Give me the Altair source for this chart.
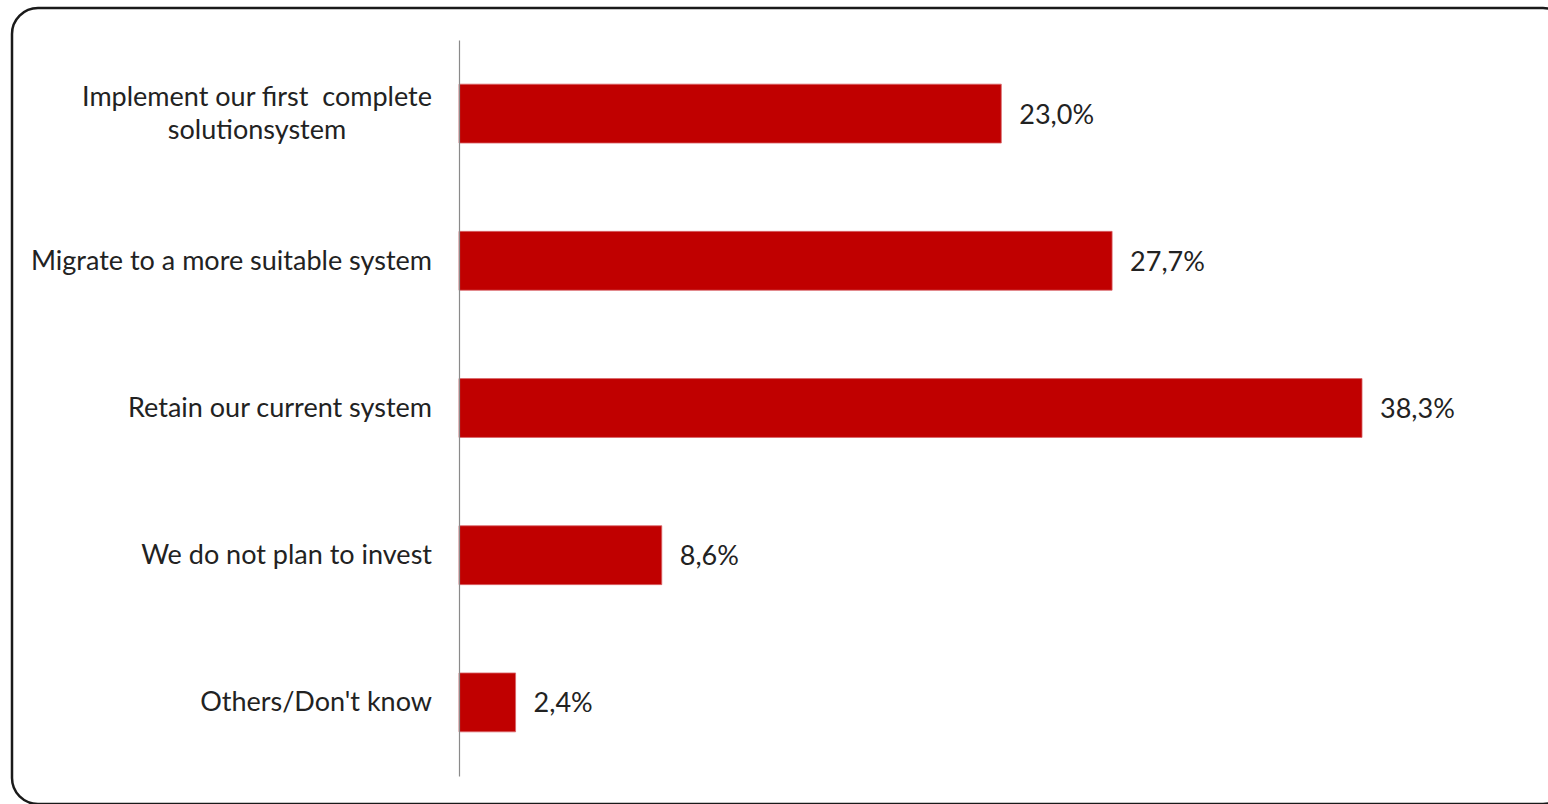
import altair as alt
import pandas as pd

categories = [
    "Implement our first  complete solutionsystem",
    "Migrate to a more suitable system",
    "Retain our current system",
    "We do not plan to invest",
    "Others/Don't know",
]
label_lines = [
    ["Implement our first\u00a0 complete", "solutionsystem"],
    ["Migrate to a more suitable system"],
    ["Retain our current system"],
    ["We do not plan to invest"],
    ["Others/Don't know"],
]
values = [23.0, 27.7, 38.3, 8.6, 2.4]

df = pd.DataFrame({
    "cat": categories,
    "v": values,
    "lines": label_lines,
    "nlines": [len(l) for l in label_lines],
})

FONT = "Lato"
FS = 27
W, H = 1061, 736
TXT = "#222222"

y_enc = alt.Y("cat:N", sort=categories,
              scale=alt.Scale(paddingInner=0.6, paddingOuter=0.3),
              axis=alt.Axis(title=None, labels=False, ticks=False, domain=True,
                            domainColor="#8a8a8a", domainWidth=1.2, zindex=1))
x_scale = alt.Scale(domain=[0, 45])

base = alt.Chart(df)

frame = alt.Chart(pd.DataFrame({"a": [0]})).mark_rect(
    fill="white", stroke="#1a1a1a", strokeWidth=2.5, cornerRadius=26
).encode(
    x=alt.value(-447), x2=alt.value(1110),
    y=alt.value(-32), y2=alt.value(764),
)

bars = base.mark_bar(color="#C00000", stroke="#d9666a", strokeWidth=0.8).encode(
    x=alt.X("v:Q", scale=x_scale, axis=None),
    y=y_enc,
)

vals = base.transform_calculate(
    lab="replace(format(datum.v, '.1f'), '.', ',') + '%'"
).mark_text(align="left", baseline="middle", dx=18, dy=2, font=FONT, fontSize=FS,
            color=TXT).encode(
    x=alt.X("v:Q", scale=x_scale),
    y=alt.Y("cat:N", sort=categories),
    text="lab:N",
)

labels_single = base.transform_filter("datum.nlines == 1").mark_text(
    align="right", baseline="middle", dy=1, font=FONT, fontSize=FS, color=TXT
).encode(
    x=alt.value(-27),
    y=alt.Y("cat:N", sort=categories),
    text="cat:N",
)

labels_multi = base.transform_filter("datum.nlines > 1").mark_text(
    align="center", baseline="middle", font=FONT, fontSize=FS, color=TXT,
    lineHeight=33, dy=-16
).encode(
    x=alt.value(-202),
    y=alt.Y("cat:N", sort=categories),
    text="lines",
)

chart = alt.layer(frame, bars, vals, labels_single, labels_multi).properties(
    width=W, height=H,
    autosize=alt.AutoSizeParams(type="none"),
    padding={"left": 459, "top": 40, "right": 28, "bottom": 28},
).configure_view(stroke=None).configure(background="white")

chart.save("out.html", embed_options={"renderer": "svg", "actions": False})
